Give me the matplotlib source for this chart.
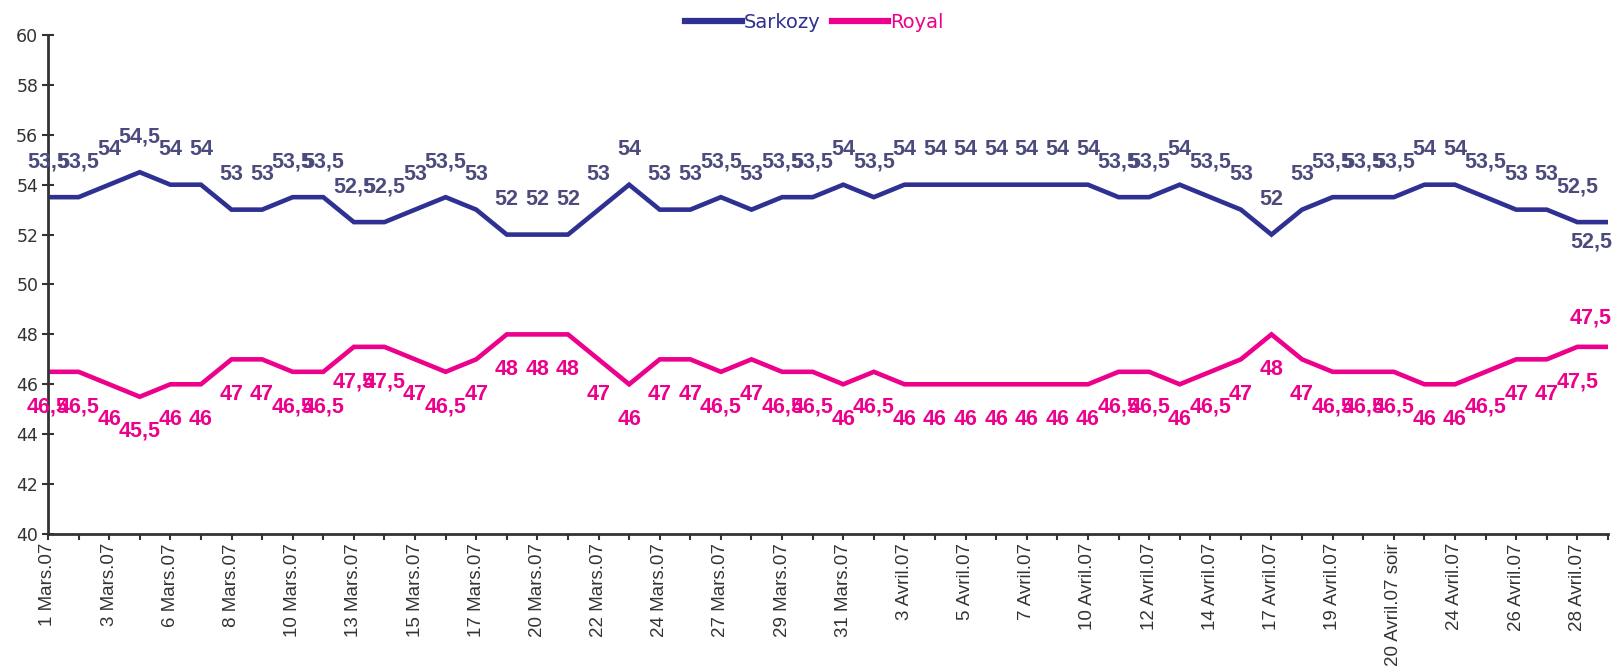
import numpy as np
import matplotlib.pyplot as plt

# Sondages second tour, mars-avril 2007
sarkozy = [53.5, 53.5, 54, 54.5, 54, 54, 53, 53, 53.5, 53.5, 52.5, 52.5, 53, 53.5, 53, 52,
           52, 52, 53, 54, 53, 53, 53.5, 53, 53.5, 53.5, 54, 53.5, 54, 54, 54, 54,
           54, 54, 54, 53.5, 53.5, 54, 53.5, 53, 52, 53, 53.5, 53.5, 53.5, 54, 54, 53.5,
           53, 53, 52.5, 52.5]
royal = [46.5, 46.5, 46, 45.5, 46, 46, 47, 47, 46.5, 46.5, 47.5, 47.5, 47, 46.5, 47, 48,
         48, 48, 47, 46, 47, 47, 46.5, 47, 46.5, 46.5, 46, 46.5, 46, 46, 46, 46,
         46, 46, 46, 46.5, 46.5, 46, 46.5, 47, 48, 47, 46.5, 46.5, 46.5, 46, 46, 46.5,
         47, 47, 47.5, 47.5]
tick_labels = ['1 Mars.07', '3 Mars.07', '6 Mars.07', '8 Mars.07', '10 Mars.07', '13 Mars.07',
               '15 Mars.07', '17 Mars.07', '20 Mars.07', '22 Mars.07', '24 Mars.07', '27 Mars.07',
               '29 Mars.07', '31 Mars.07', '3 Avril.07', '5 Avril.07', '7 Avril.07', '10 Avril.07',
               '12 Avril.07', '14 Avril.07', '17 Avril.07', '19 Avril.07', '20 Avril.07 soir',
               '24 Avril.07', '26 Avril.07', '28 Avril.07']

c_sar = '#2E3192'
c_sar_lab = '#4B4B7D'
c_roy = '#EC008C'
grey = '#333333'

x = np.arange(len(sarkozy))

fig = plt.figure(figsize=(16.16, 6.69), dpi=100)
ax = fig.add_axes([0.0297, 0.2018, 0.9653, 0.7459])

ax.plot(x, sarkozy, color=c_sar, lw=3.3, label='Sarkozy', solid_joinstyle='miter')
ax.plot(x, royal, color=c_roy, lw=3.3, label='Royal', solid_joinstyle='miter')

def fmt(v):
    return ('%g' % v).replace('.', ',')

lab_kw = dict(textcoords='offset points', va='center', fontsize=15.5,
              fontweight='bold', family='Liberation Sans')
last = len(x) - 1
for i in x:
    # Sarkozy au-dessus, Royal en dessous (sauf le dernier point)
    if i == last:
        ax.annotate(fmt(sarkozy[i]), (x[i], sarkozy[i]), xytext=(3, -14), ha='right',
                    color=c_sar_lab, **lab_kw)
        ax.annotate(fmt(royal[i]), (x[i], royal[i]), xytext=(3, 21), ha='right',
                    color=c_roy, **lab_kw)
    else:
        ax.annotate(fmt(sarkozy[i]), (x[i], sarkozy[i]), xytext=(0, 25), ha='center',
                    color=c_sar_lab, **lab_kw)
        ax.annotate(fmt(royal[i]), (x[i], royal[i]), xytext=(0, -25), ha='center',
                    color=c_roy, **lab_kw)

ax.set_xlim(0, last)
ax.set_ylim(40, 60)
ax.set_yticks(np.arange(40, 61, 2))
ax.set_xticks(x)
ax.set_xticklabels([tick_labels[i // 2] if i % 2 == 0 else '' for i in x],
                   rotation=90, family='Liberation Sans', fontsize=13.5, color=grey)
for lab in ax.get_yticklabels():
    lab.set_family('DejaVu Sans')
    lab.set_fontsize(12.5)
    lab.set_color(grey)

for s in ['top', 'right']:
    ax.spines[s].set_visible(False)
for s in ['left', 'bottom']:
    ax.spines[s].set_color(grey)
    ax.spines[s].set_linewidth(2)
ax.tick_params(axis='y', direction='inout', length=8, width=1.5, color=grey, pad=3)
ax.tick_params(axis='x', direction='out', length=4.5, width=1.5, color=grey, pad=2)

leg = fig.legend(loc='center', bbox_to_anchor=(0.504, 0.967), ncol=2, frameon=False,
                 handlelength=2.9, handletextpad=0.1, columnspacing=0.6,
                 labelcolor='linecolor', prop={'family': 'DejaVu Sans', 'size': 14})
for h in leg.get_lines():
    h.set_linewidth(4.5)

fig.savefig('out.png', dpi=100)
